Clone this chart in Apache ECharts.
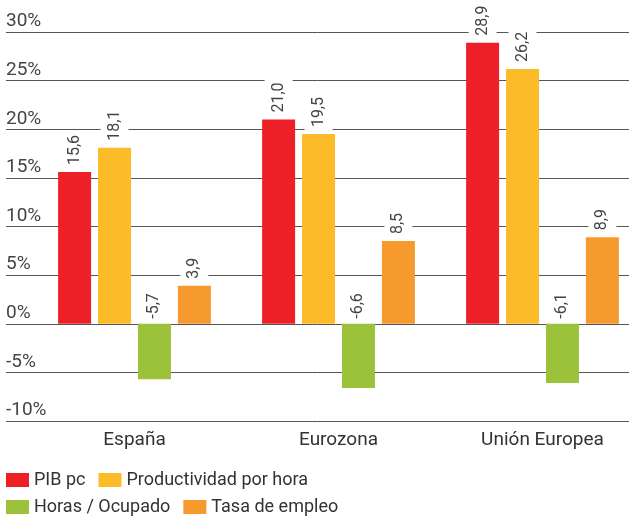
<!DOCTYPE html>
<html>
<head>
<meta charset="utf-8">
<script src="https://cdn.jsdelivr.net/npm/echarts@6/dist/echarts.min.js"></script>
<style>
  html, body { margin: 0; padding: 0; background: #fff; }
  #chart { width: 629px; height: 519px; }
</style>
</head>
<body>
<div id="chart"></div>
<script>
const categories = ['España', 'Eurozona', 'Unión Europea']
const pibPc = [15.6, 21.0, 28.9]
const productividad = [18.1, 19.5, 26.2]
const horasOcupado = [-5.7, -6.6, -6.1]
const tasaEmpleo = [3.9, 8.5, 8.9]
const yTicks = [-10, -5, 0, 5, 10, 15, 20, 25, 30]

const font = 'Roboto'
const fmt = v => v.toFixed(1).replace('.', ',')

const barLabel = (dist) => ({
  show: true,
  position: 'top',
  rotate: 90,
  align: 'left',
  verticalAlign: 'middle',
  distance: dist,
  fontFamily: font,
  fontSize: 16,
  color: '#444',
  backgroundColor: '#fff',
  padding: [6, 4],
  formatter: p => fmt(p.value)
})

const legendBase = {
  left: 6,
  icon: 'rect',
  itemWidth: 23,
  itemHeight: 14,
  itemGap: 13,
  padding: 0,
  textStyle: { fontFamily: font, fontSize: 18, color: '#333' }
}

const chart = echarts.init(document.getElementById('chart'))

chart.setOption({
  animation: false,
  backgroundColor: '#fff',
  grid: [
    { left: 32.5, width: 612, top: 32, bottom: 98, outerBoundsMode: 'none' },
    { left: 6, right: 0, top: 32, bottom: 98, outerBoundsMode: 'none' }
  ],
  xAxis: [
    {
      type: 'category',
      gridIndex: 0,
      data: categories,
      axisLine: { show: false },
      axisTick: { show: false },
      axisLabel: { fontFamily: font, fontSize: 19, color: '#333', margin: 10 }
    },
    { type: 'value', gridIndex: 1, show: false, min: 0, max: 1 }
  ],
  yAxis: [
    { type: 'value', gridIndex: 0, min: -10, max: 30, interval: 5, show: false },
    {
      type: 'value',
      gridIndex: 1,
      min: yTicks[0],
      max: yTicks[yTicks.length - 1],
      interval: 5,
      axisLine: { show: false },
      axisTick: { show: false },
      splitLine: { lineStyle: { color: '#555', width: 1 } },
      axisLabel: {
        inside: true,
        margin: 0,
        align: 'left',
        verticalAlign: 'bottom',
        padding: [0, 0, 1, 0],
        fontFamily: font,
        fontSize: 19,
        color: '#444',
        formatter: v => v + '%'
      }
    }
  ],
  legend: [
    Object.assign({}, legendBase, { top: 471, data: ['PIB pc', 'Productividad por hora'] }),
    Object.assign({}, legendBase, { top: 498, data: ['Horas / Ocupado', 'Tasa de empleo'] })
  ],
  series: [
    { name: 'PIB pc', type: 'bar', data: pibPc, barWidth: 33, barGap: '21%', itemStyle: { color: '#ED1F27' }, label: barLabel(3) },
    { name: 'Productividad por hora', type: 'bar', data: productividad, barWidth: 33, barGap: '21%', itemStyle: { color: '#FCBC2A' }, label: barLabel(3) },
    { name: 'Horas / Ocupado', type: 'bar', data: horasOcupado, barWidth: 33, barGap: '21%', itemStyle: { color: '#9CC23B' }, label: barLabel(1) },
    { name: 'Tasa de empleo', type: 'bar', data: tasaEmpleo, barWidth: 33, barGap: '21%', itemStyle: { color: '#F79A2E' }, label: barLabel(3) }
  ]
})
</script>
</body>
</html>
